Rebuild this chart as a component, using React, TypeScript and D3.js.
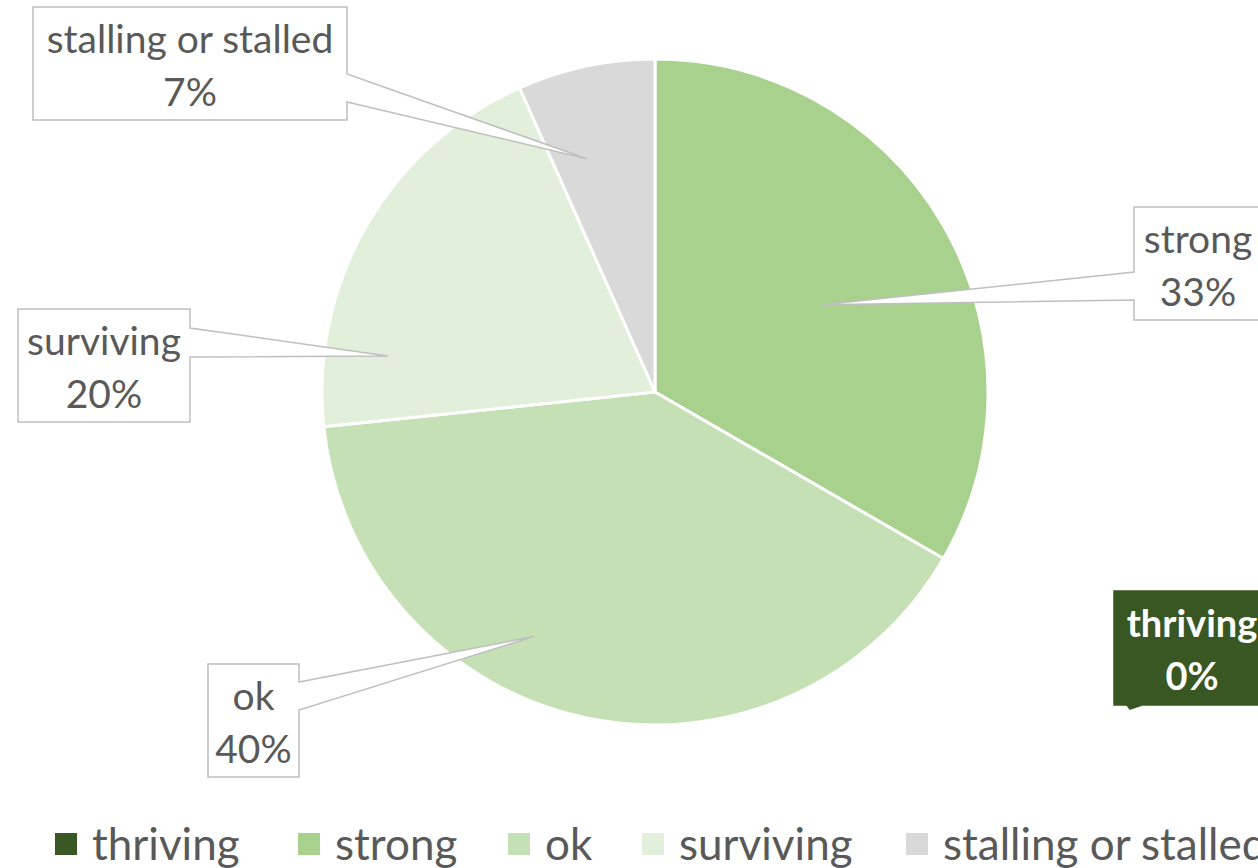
import React from "react";
import * as d3 from "d3";

// slice order as in the workbook: thriving first, clockwise from 12 o'clock
const categories = ["thriving", "strong", "ok", "surviving", "stalling or stalled"];
const counts = [0, 5, 6, 3, 1];
const colors = ["#385723", "#A9D18E", "#C5E0B4", "#E2EFDA", "#D9D9D9"];

const W = 1258;
const H = 868;
const cx = 655;
const cy = 392;
const R = 333;

const FONT = "Lato, 'Open Sans', sans-serif";
const TEXT = "#595959";
const BORDER = "#BFBFBF";

// callout boxes (manually placed in the original), tail base on the box side
// t = position along the slice's angle, rf = fraction of the radius for the tail tip
const callouts = [
  { x: 1114, y: 591, w: 156, h: 114, side: "bottom", b: [1127, 1142], tip: [1130, 709], dark: true },
  { x: 1134, y: 207, w: 128, h: 113, side: "left", b: [272, 300], t: 0.52, rf: 0.565 },
  { x: 208, y: 664, w: 91, h: 113, side: "right", b: [682, 710], t: 0.6, rf: 0.82 },
  { x: 18, y: 309, w: 172, h: 113, side: "right", b: [328, 357], t: 0.19, rf: 0.81 },
  { x: 33, y: 7, w: 314, h: 113, side: "right", b: [74, 102], t: 0.32, rf: 0.73 },
];

const legendX = [55, 298, 508, 642, 906];

function calloutPath(c: any, tip: number[]) {
  const x0 = c.x, y0 = c.y, x1 = c.x + c.w, y1 = c.y + c.h;
  const [p, q] = c.b;
  if (c.side === "right")
    return `M${x0},${y0}H${x1}V${p}L${tip[0]},${tip[1]}L${x1},${q}V${y1}H${x0}Z`;
  if (c.side === "left")
    return `M${x0},${y0}H${x1}V${y1}H${x0}V${q}L${tip[0]},${tip[1]}L${x0},${p}Z`;
  return `M${x0},${y0}H${x1}V${y1}H${q}L${tip[0]},${tip[1]}L${p},${y1}H${x0}Z`;
}

export default function App() {
  const data = categories.map((name, i) => ({ name, value: counts[i], color: colors[i] }));
  const total = d3.sum(counts);
  const arcs = d3.pie<any>().value((d) => d.value).sort(null)(data);
  const arc = d3.arc<any>().innerRadius(0).outerRadius(R);
  const pct = d3.format(".0%");

  return (
    <svg
      width={W}
      height={H}
      style={{ position: "absolute", left: 0, top: 0, background: "#fff" }}
      fontFamily={FONT}
    >
      <g transform={`translate(${cx},${cy})`}>
        {arcs.map((a, i) => (
          <path key={i} d={arc(a) || ""} fill={a.data.color} stroke="#fff" strokeWidth={3} strokeLinejoin="round" />
        ))}
      </g>

      {arcs.map((a, i) => {
        const c = callouts[i];
        let tip = c.tip;
        if (!tip) {
          const ang = a.startAngle + (a.endAngle - a.startAngle) * (c.t as number);
          const r = R * (c.rf as number);
          tip = [cx + r * Math.sin(ang), cy - r * Math.cos(ang)];
        }
        const mx = c.x + c.w / 2;
        const my = c.y + c.h / 2;
        return (
          <g key={i}>
            <path
              d={calloutPath(c, tip)}
              fill={c.dark ? a.data.color : "#fff"}
              stroke={c.dark ? a.data.color : BORDER}
              strokeWidth={1.5}
              strokeLinejoin="miter"
            />
            <text
              textAnchor="middle"
              fontSize={c.dark ? 38 : 39}
              fontWeight={c.dark ? 700 : 400}
              fill={c.dark ? "#fff" : TEXT}
            >
              <tspan x={mx} y={my - 11}>{a.data.name}</tspan>
              <tspan x={mx} y={my + 42}>{pct(a.data.value / total)}</tspan>
            </text>
          </g>
        );
      })}

      <g>
        {data.map((d, i) => (
          <g key={i} transform={`translate(${legendX[i]},0)`}>
            <rect x={0} y={833} width={22} height={22} fill={d.color} />
            <text x={37} y={860} fontSize={44} fill={TEXT}>{d.name}</text>
          </g>
        ))}
      </g>
    </svg>
  );
}
